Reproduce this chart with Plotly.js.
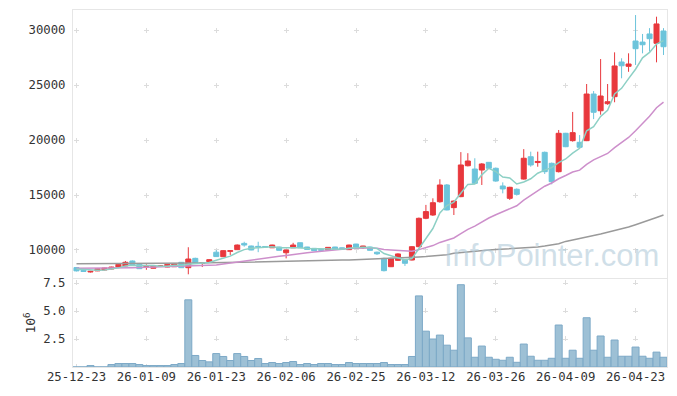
<!DOCTYPE html>
<html>
<head>
<meta charset="utf-8">
<script src="https://cdn.plot.ly/plotly-3.0.1.min.js"></script>
<style>
html,body{margin:0;padding:0;background:#fff;}
#chart{width:677px;height:396px;}
</style>
</head>
<body>
<div id="chart"></div>
<script>
var dates = ['25-12-23','25-12-24','25-12-26','25-12-29','25-12-30','26-01-02','26-01-05','26-01-06','26-01-07','26-01-08',
'26-01-09','26-01-12','26-01-13','26-01-14','26-01-15','26-01-16','26-01-19','26-01-20','26-01-21','26-01-22',
'26-01-23','26-01-26','26-01-27','26-01-28','26-01-29','26-01-30','26-02-02','26-02-03','26-02-04','26-02-05',
'26-02-06','26-02-09','26-02-10','26-02-11','26-02-12','26-02-13','26-02-19','26-02-20','26-02-23','26-02-24',
'26-02-25','26-02-26','26-02-27','26-03-03','26-03-04','26-03-05','26-03-06','26-03-09','26-03-10','26-03-11',
'26-03-12','26-03-13','26-03-16','26-03-17','26-03-18','26-03-19','26-03-20','26-03-23','26-03-24','26-03-25',
'26-03-26','26-03-27','26-03-30','26-03-31','26-04-01','26-04-02','26-04-03','26-04-06','26-04-07','26-04-08',
'26-04-09','26-04-10','26-04-13','26-04-14','26-04-15','26-04-16','26-04-17','26-04-20','26-04-21','26-04-22',
'26-04-23','26-04-24','26-04-27','26-04-28','26-04-29'];

var openP = [8400,8150,8000,8100,8180,8270,8450,8550,9000,8700,
8450,8340,8500,8450,8480,8880,8390,9240,8780,8940,
9800,9390,9880,10030,10600,10360,10330,10320,10200,10270,
9750,10200,10660,10270,10150,10050,10000,10270,10200,10030,
10540,10200,10270,9800,9240,8480,9060,9150,9090,10300,
12880,13180,14390,15910,13850,14850,17660,17360,17270,17970,
17430,15820,14700,15520,16450,18480,17950,18880,17880,17120,
20610,19940,19790,19940,24180,22660,23300,23940,27090,26700,
29000,28900,29640,28790,29910];

var highP = [8450,8200,8100,8320,8380,8480,8750,9000,9050,8720,
8700,8580,8620,8720,8760,8900,10250,9300,8850,9150,
10000,9980,9980,10500,10750,10400,10750,10350,10480,10300,
10020,10650,10680,10290,10170,10080,10260,10290,10230,10480,
10560,10380,10300,9850,9300,9280,9700,9180,10350,12950,
14100,14700,16430,16000,14500,18900,18800,18340,17900,18000,
17500,16150,15750,15600,19170,18940,18940,18950,17950,20910,
20650,22550,20450,25090,24450,27360,25090,27970,27430,27880,
31360,29640,30170,31210,30170];

var lowP = [8050,8000,7950,8080,8150,8250,8430,8530,8600,8280,
8200,8320,8480,8430,8460,8370,7790,8800,8450,8920,
9380,9370,9550,10000,10300,9980,9800,10250,10180,9950,
9240,10180,10180,10030,9920,9850,9980,10030,10080,10000,
10250,10100,9950,9550,8050,8450,9000,8550,9050,10250,
12800,13100,14300,13600,13180,14800,17600,16000,15910,17400,
16200,15150,14550,14950,16400,17570,17570,16910,15970,17050,
19350,19850,19300,19900,21900,22300,23200,23430,25610,26200,
26820,27880,28030,27060,27730];

var closeP = [8100,8050,8060,8300,8360,8450,8700,8880,8650,8300,
8520,8550,8560,8700,8730,8390,9180,8820,8830,9120,
9400,9940,9930,10450,10450,10000,10280,10280,10450,9970,
10000,10450,10200,10050,9940,9980,10240,10050,10100,10450,
10270,10360,9970,9650,8120,9240,9640,8790,10300,12880,
13490,14300,15910,13640,14450,17730,18090,16060,17820,17430,
16270,15550,15700,15060,18340,17730,18050,17120,16210,20610,
19390,20670,19340,24180,22520,24000,23480,26730,26750,26910,
28300,28660,29210,30550,28480];

var ma5 = [8280,8230,8180,8160,8174,8244,8374,8538,8608,8596,
8610,8580,8516,8526,8612,8586,8712,8764,8790,8868,
9070,9222,9444,9768,10034,10154,10222,10292,10292,10196,
10196,10230,10214,10134,10128,10124,10082,10052,10062,10164,
10222,10246,10230,10140,9674,9468,9324,9088,9218,10170,
11020,11952,13376,14044,14358,15206,15964,15994,16830,17426,
17134,16626,16554,16002,16184,16476,16976,17260,17490,17944,
18276,18800,19244,20838,21220,22142,22704,24182,24696,25574,
26434,27470,27966,28726,29040];

var ma20 = [8330,8330,8330,8340,8340,8350,8360,8370,8390,8400,
8420,8440,8460,8480,8500,8520,8540,8550,8560,8563,
8628,8722,8816,8923,9028,9105,9184,9254,9344,9428,
9502,9597,9679,9746,9807,9886,9939,10001,10064,10131,
10174,10195,10197,10157,10041,10003,9971,9896,9889,10034,
10209,10401,10687,10866,11092,11479,11872,12172,12558,12907,
13207,13467,13753,14024,14535,14959,15380,15796,16092,16478,
16773,17092,17263,17790,18194,18507,18777,19310,19757,20231,
20832,21488,22163,22938,23445];

var maLong = [8760,8760,8765,8765,8770,8770,8775,8775,8780,8780,
8785,8790,8790,8795,8800,8805,8810,8815,8820,8830,
8840,8850,8860,8870,8880,8890,8900,8915,8930,8945,
8960,8975,8990,9005,9020,9035,9050,9065,9080,9100,
9120,9140,9160,9190,9210,9230,9260,9290,9320,9360,
9400,9450,9500,9570,9700,9770,9840,9900,9950,10000,
10040,10070,10100,10130,10160,10210,10280,10360,10460,10570,
10780,10900,11030,11170,11310,11450,11600,11760,11920,12090,
12300,12500,12720,12950,13180];

var volume = [8000,8000,130000,8000,8000,220000,310000,310000,310000,220000,
130000,130000,130000,130000,220000,310000,6000000,1030000,580000,460000,
1200000,940000,580000,1200000,940000,580000,760000,310000,400000,310000,
400000,490000,220000,310000,220000,310000,310000,220000,220000,400000,
310000,310000,310000,310000,400000,220000,220000,220000,940000,6350000,
3200000,2500000,2850000,1950000,1500000,7350000,2600000,870000,1870000,870000,
690000,600000,870000,420000,2050000,960000,600000,600000,780000,3750000,
780000,1500000,780000,4400000,1500000,2770000,870000,2410000,960000,960000,
1780000,960000,780000,1330000,870000];

var priceTicks = [10000,15000,20000,25000,30000];
var volTicks = [2500000,5000000,7500000];
var volTickText = ['2.5','5.0','7.5'];
var xTicks = dates.filter(function(d,i){return i%10===0;});

var RED = '#E8383D', BLUE = '#6CC4DB';

var traces = [
  {type:'candlestick', x:dates, open:openP, high:highP, low:lowP, close:closeP,
   xaxis:'x', yaxis:'y',
   increasing:{line:{color:RED,width:1}, fillcolor:RED},
   decreasing:{line:{color:BLUE,width:1}, fillcolor:BLUE},
   whiskerwidth:0, hoverinfo:'skip'},
  {type:'scatter', mode:'lines', x:dates, y:maLong, xaxis:'x', yaxis:'y',
   line:{color:'#9a9a9a', width:1.5}, hoverinfo:'skip'},
  {type:'scatter', mode:'lines', x:dates, y:ma20, xaxis:'x', yaxis:'y',
   line:{color:'#CD8FCB', width:1.5}, hoverinfo:'skip'},
  {type:'scatter', mode:'lines', x:dates, y:ma5, xaxis:'x', yaxis:'y',
   line:{color:'#8DD0C5', width:1.5}, hoverinfo:'skip'},
  {type:'bar', x:dates, y:volume, xaxis:'x2', yaxis:'y2',
   marker:{color:'#9DC0D5', line:{color:'#7DA9C7', width:1}}, hoverinfo:'skip'}
];

var GRIDC = '#dcdcdc', LINEC = '#e6e6e6';
var hDash = '0px,1px,5px,63.88px';
var TICKFONT = {family:'DejaVu Sans Mono, monospace', size:12.3, color:'#333'};

var layout = {
  width:677, height:396,
  margin:{l:73, r:10, t:10, b:29, pad:0},
  paper_bgcolor:'#fff', plot_bgcolor:'#fff',
  showlegend:false, hovermode:false, bargap:0, boxgap:0.1, boxgroupgap:0.2,
  font:{family:'DejaVu Sans Mono, monospace', size:12.3, color:'#333'},
  xaxis:{type:'category', domain:[0,1], anchor:'y', range:[-0.5, dates.length-0.5],
    tickvals:xTicks, showticklabels:false, showgrid:true, gridcolor:GRIDC,
    griddash:'0px,17.5px,5px,32.5px', zeroline:false,
    showline:true, mirror:true, linecolor:LINEC, linewidth:1,
    rangeslider:{visible:false}, fixedrange:true},
  yaxis:{domain:[0.2493,1], anchor:'x', range:[7454,31818], tickvals:priceTicks,
    tickformat:'d', tickfont:TICKFONT, showgrid:true, gridcolor:GRIDC, griddash:hDash, zeroline:false,
    showline:true, mirror:true, linecolor:LINEC, linewidth:1,
    ticks:'outside', ticklen:4, tickcolor:'rgba(0,0,0,0)', fixedrange:true},
  xaxis2:{type:'category', domain:[0,1], anchor:'y2', matches:'x', range:[-0.5, dates.length-0.5],
    tickvals:xTicks, ticktext:xTicks, tickfont:TICKFONT, showgrid:true, gridcolor:GRIDC,
    griddash:'0px,1.5px,5px,21.5px', zeroline:false,
    showline:true, mirror:true, linecolor:LINEC, linewidth:1,
    ticks:'', ticklabelstandoff:-2, tickangle:0, fixedrange:true},
  yaxis2:{domain:[0,0.2465], anchor:'x2', range:[0,7860000], tickvals:volTicks, ticktext:volTickText,
    tickfont:TICKFONT, showgrid:true, gridcolor:GRIDC, griddash:hDash, zeroline:false,
    showline:true, mirror:true, linecolor:LINEC, linewidth:1,
    ticks:'outside', ticklen:4, tickcolor:'rgba(0,0,0,0)',
    title:{text:'10<sup>6</sup>', standoff:4, font:{family:'DejaVu Sans Mono, monospace', size:13, color:'#333'}}, fixedrange:true},
  annotations:[{text:'InfoPointer.com', xref:'paper', yref:'paper', x:0.99, y:0.311,
    xanchor:'right', yanchor:'middle', showarrow:false,
    font:{family:'Liberation Sans, Arial, sans-serif', size:31, color:'rgba(176,202,217,0.6)'}}]
};

Plotly.newPlot('chart', traces, layout, {staticPlot:true, displayModeBar:false});
</script>
</body>
</html>
